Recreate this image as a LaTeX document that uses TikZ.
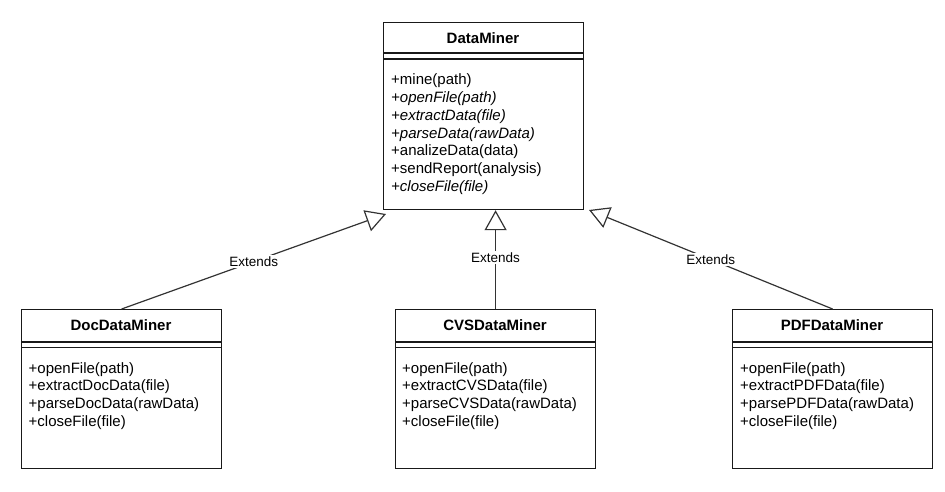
\documentclass[tikz,border=0pt]{standalone}
\usepackage{fontspec}
\setmainfont{Liberation Sans}
\usetikzlibrary{arrows.meta,calc}
\begin{document}
\begin{tikzpicture}[x=1pt,y=-1pt,
  umlbox/.style={draw=black!90,line width=1.2pt,anchor=north west,minimum width=200pt,inner sep=0pt,fill=white},
  ttl/.style={anchor=base,inner sep=0pt,font=\fontsize{15}{18}\selectfont\bfseries},
  mtext/.style={anchor=base west,inner sep=0pt,font=\fontsize{15}{18}\selectfont},
  itext/.style={mtext,font=\fontsize{15}{18}\selectfont\itshape},
  sep/.style={draw=black!90,line width=1.2pt},
  ext/.style={draw=black!80,line width=1.2pt,-{Triangle[open,length=20pt,width=22pt,line width=1.2pt]}},
  lbl/.style={fill=white,inner sep=1.5pt,font=\fontsize{13.5}{16}\selectfont}
]
\useasboundingbox (0,0) rectangle (945,492);

% DataMiner
\node[umlbox,minimum height=187pt] (dm) at (383,22) {};
\node[ttl] (dmt) at (483,43.5) {DataMiner};
\draw[sep] ($(dm.north west)+(0,31)$) -- ($(dm.north east)+(0,31)$);
\draw[sep] ($(dm.north west)+(0,37)$) -- ($(dm.north east)+(0,37)$);
\node[mtext] (dm1) at (391,85) {+mine(path)};
\node[itext] (dm2) at (391,102.7) {+openFile(path)};
\node[itext] (dm3) at (391,120.4) {+extractData(file)};
\node[itext] (dm4) at (391,138.1) {+parseData(rawData)};
\node[mtext] (dm5) at (391,155.8) {+analizeData(data)};
\node[mtext] (dm6) at (391,173.5) {+sendReport(analysis)};
\node[itext] (dm7) at (391,191.2) {+closeFile(file)};

% DocDataMiner
\node[umlbox,minimum height=159pt] (doc) at (21,309) {};
\node[ttl] (doct) at (121,330.5) {DocDataMiner};
\draw[sep] ($(doc.north west)+(0,33)$) -- ($(doc.north east)+(0,33)$);
\draw[sep] ($(doc.north west)+(0,38.5)$) -- ($(doc.north east)+(0,38.5)$);
\node[mtext] (doc1) at (28.5,373) {+openFile(path)};
\node[mtext] (doc2) at (28.5,390.7) {+extractDocData(file)};
\node[mtext] (doc3) at (28.5,408.4) {+parseDocData(rawData)};
\node[mtext] (doc4) at (28.5,426.1) {+closeFile(file)};

% CVSDataMiner
\node[umlbox,minimum height=159pt] (cvs) at (395,309) {};
\node[ttl] (cvst) at (495,330.5) {CVSDataMiner};
\draw[sep] ($(cvs.north west)+(0,33)$) -- ($(cvs.north east)+(0,33)$);
\draw[sep] ($(cvs.north west)+(0,38.5)$) -- ($(cvs.north east)+(0,38.5)$);
\node[mtext] (cvs1) at (402,373) {+openFile(path)};
\node[mtext] (cvs2) at (402,390.7) {+extractCVSData(file)};
\node[mtext] (cvs3) at (402,408.4) {+parseCVSData(rawData)};
\node[mtext] (cvs4) at (402,426.1) {+closeFile(file)};

% PDFDataMiner
\node[umlbox,minimum height=159pt] (pdf) at (732,309) {};
\node[ttl] (pdft) at (832,330.5) {PDFDataMiner};
\draw[sep] ($(pdf.north west)+(0,33)$) -- ($(pdf.north east)+(0,33)$);
\draw[sep] ($(pdf.north west)+(0,38.5)$) -- ($(pdf.north east)+(0,38.5)$);
\node[mtext] (pdf1) at (740,373) {+openFile(path)};
\node[mtext] (pdf2) at (740,390.7) {+extractPDFData(file)};
\node[mtext] (pdf3) at (740,408.4) {+parsePDFData(rawData)};
\node[mtext] (pdf4) at (740,426.1) {+closeFile(file)};

% arrow tips
\coordinate (tipL) at (386,214);
\coordinate (tipR) at (589,210);

\draw[ext] (doc.north) -- node[lbl,pos=0.5] {Extends} (tipL);
\draw[ext] (cvs.north) -- node[lbl,pos=0.52] {Extends} (cvs.north |- dm.south);
\draw[ext] (pdf.north) -- node[lbl,pos=0.5] {Extends} (tipR);
\end{tikzpicture}
\end{document}
